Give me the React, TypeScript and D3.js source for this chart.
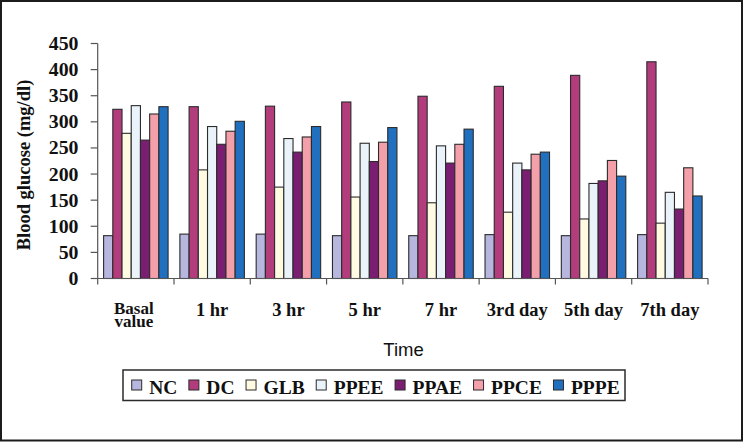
import React, { useEffect, useRef } from "react";
import * as d3 from "d3";

const categories = ["Basal value", "1 hr", "3 hr", "5 hr", "7 hr", "3rd day", "5th day", "7th day"];
const seriesNames = ["NC", "DC", "GLB", "PPEE", "PPAE", "PPCE", "PPPE"];
const seriesColors = ["#b6b6de", "#b33c7c", "#fffbe2", "#eaf3f9", "#7a1e72", "#f3a0aa", "#2170c0"];
const NC = [82, 85, 85, 82, 82, 84, 82, 84];
const DC = [324, 329, 330, 338, 349, 368, 389, 415];
const GLB = [278, 208, 175, 156, 145, 127, 114, 106];
const PPEE = [331, 291, 268, 259, 254, 221, 182, 165];
const PPAE = [265, 257, 242, 224, 221, 208, 187, 133];
const PPCE = [315, 282, 271, 261, 257, 238, 226, 212];
const PPPE = [329, 301, 291, 289, 286, 242, 196, 158];
const seriesValues = [NC, DC, GLB, PPEE, PPAE, PPCE, PPPE];
const yTicks = [0, 50, 100, 150, 200, 250, 300, 350, 400, 450];

const serif = "'Liberation Serif', 'Times New Roman', serif";
const sans = "'Liberation Sans', Arial, sans-serif";

export default function App() {
  const ref = useRef<SVGSVGElement | null>(null);

  useEffect(() => {
    const svg = d3.select(ref.current);
    svg.selectAll("*").remove();

    const left = 97.7, right = 708, top = 43.5, bottom = 278.5;

    svg.append("rect").attr("x", 1).attr("y", 1).attr("width", 741).attr("height", 439.5)
      .attr("fill", "#fff").attr("stroke", "#1c1c1c").attr("stroke-width", 2);

    const y = d3.scaleLinear().domain([0, 450]).range([bottom, top]);
    const x0 = d3.scaleBand<string>().domain(categories).range([left, right]).paddingInner(0).paddingOuter(0);
    const bw = x0.bandwidth();
    const x1 = d3.scaleBand<string>().domain(seriesNames).range([5.9, bw - 5.9]).padding(0);

    // bars
    const g = svg.append("g");
    seriesNames.forEach((s, si) => {
      g.selectAll(null).data(seriesValues[si]).enter().append("rect")
        .attr("x", (_d, i) => (x0(categories[i]) as number) + (x1(s) as number))
        .attr("y", (d) => y(d))
        .attr("width", x1.bandwidth())
        .attr("height", (d) => bottom - y(d))
        .attr("fill", seriesColors[si])
        .attr("stroke", "#2b2b2b")
        .attr("stroke-width", 1.1);
    });

    // y axis
    const ya = svg.append("g");
    ya.append("line").attr("x1", left).attr("x2", left).attr("y1", top).attr("y2", bottom)
      .attr("stroke", "#555").attr("stroke-width", 1.2);
    yTicks.forEach((t) => {
      ya.append("line").attr("x1", left - 7).attr("x2", left).attr("y1", y(t)).attr("y2", y(t))
        .attr("stroke", "#555").attr("stroke-width", 1.2);
      ya.append("text").attr("transform", `translate(78.5,${y(t)}) scale(1.1,1)`).attr("dy", "0.36em")
        .attr("text-anchor", "end").attr("font-family", serif).attr("font-weight", "bold")
        .attr("font-size", 18).attr("fill", "#111").text(String(t));
    });

    // x axis
    const xa = svg.append("g");
    xa.append("line").attr("x1", left).attr("x2", right).attr("y1", bottom).attr("y2", bottom)
      .attr("stroke", "#555").attr("stroke-width", 1.2);
    const bounds = categories.map((c) => x0(c) as number).concat([right]);
    bounds.forEach((bx) => {
      xa.append("line").attr("x1", bx).attr("x2", bx).attr("y1", bottom).attr("y2", bottom + 6)
        .attr("stroke", "#555").attr("stroke-width", 1.2);
    });
    categories.forEach((c) => {
      const cx = (x0(c) as number) + bw / 2;
      const words = c === "Basal value" ? ["Basal", "value"] : [c];
      const multi = words.length > 1;
      const t = xa.append("text")
        .attr("text-anchor", "middle").attr("font-family", serif).attr("font-weight", "bold")
        .attr("font-size", multi ? 17 : 18.5).attr("fill", "#111");
      words.forEach((w, wi) => {
        t.append("tspan").attr("x", cx - (multi ? 2 : 0))
          .attr("y", multi ? 314 + wi * 12.5 : 315.5).text(w);
      });
    });

    // axis titles
    svg.append("text").attr("x", 403.5).attr("y", 356).attr("text-anchor", "middle")
      .attr("font-family", sans).attr("font-size", 18.5).attr("fill", "#111").text("Time");
    svg.append("text").attr("transform", "translate(30,165) rotate(-90)").attr("text-anchor", "middle")
      .attr("font-family", serif).attr("font-weight", "bold").attr("font-size", 18.5)
      .attr("fill", "#111").text("Blood glucose (mg/dl)");

    // legend
    const lg = svg.append("g");
    lg.append("rect").attr("x", 123).attr("y", 370).attr("width", 502).attr("height", 30.5)
      .attr("fill", "#fff").attr("stroke", "#2b2b2b").attr("stroke-width", 1.5);
    let lx = 131.7;
    seriesNames.forEach((s, si) => {
      lg.append("rect").attr("x", lx).attr("y", 380).attr("width", 10).attr("height", 10)
        .attr("fill", seriesColors[si]).attr("stroke", "#2b2b2b").attr("stroke-width", 1);
      const t = lg.append("text").attr("x", lx + 17.5).attr("y", 394).attr("font-family", serif)
        .attr("font-weight", "bold").attr("font-size", 19.5).attr("fill", "#111").text(s);
      const w = (t.node() as SVGTextElement).getComputedTextLength();
      lx = lx + 17.5 + w + 11.5;
    });
  }, []);

  return (
    <svg ref={ref} width={744} height={442}
      style={{ position: "absolute", left: 0, top: 0, background: "#fff" }} />
  );
}
